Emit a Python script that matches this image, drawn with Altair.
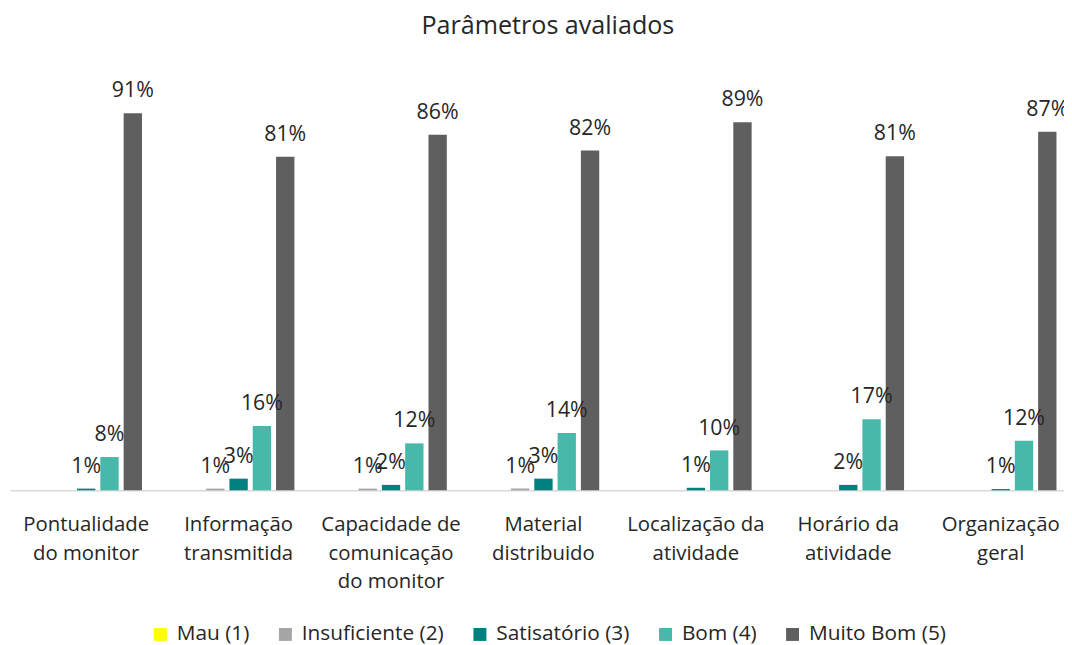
import altair as alt
import pandas as pd

categories = [
    "Pontualidade|do monitor",
    "Informação|transmitida",
    "Capacidade de|comunicação|do monitor",
    "Material|distribuido",
    "Localização da|atividade",
    "Horário da|atividade",
    "Organização|geral",
]
series = ["Mau (1)", "Insuficiente (2)", "Satisatório (3)", "Bom (4)", "Muito Bom (5)"]
colors = ["#FFFF00", "#A5A5A5", "#00807F", "#47B8AA", "#5F5F5F"]

# bar heights (percent)
mau = [0, 0, 0, 0, 0, 0, 0]
insuficiente = [0, 0.4, 0.4, 0.4, 0, 0, 0]
satisfatorio = [0.4, 2.8, 1.3, 2.8, 0.6, 1.3, 0.3]
bom = [8.0, 15.5, 11.3, 13.8, 9.6, 17.1, 11.9]
muito_bom = [90.8, 80.3, 85.6, 81.8, 88.6, 80.4, 86.3]

# data labels as printed
mau_lbl = ["", "", "", "", "", "", ""]
insuficiente_lbl = ["", "1%", "1%", "1%", "", "", ""]
satisfatorio_lbl = ["1%", "3%", "2%", "3%", "1%", "2%", "1%"]
bom_lbl = ["8%", "16%", "12%", "14%", "10%", "17%", "12%"]
muito_bom_lbl = ["91%", "81%", "86%", "82%", "89%", "81%", "87%"]

values = [mau, insuficiente, satisfatorio, bom, muito_bom]
labels = [mau_lbl, insuficiente_lbl, satisfatorio_lbl, bom_lbl, muito_bom_lbl]

rows = []
for s, vals, lbls in zip(series, values, labels):
    for c, v, l in zip(categories, vals, lbls):
        rows.append({"cat": c, "series": s, "value": v, "label": l})
df = pd.DataFrame(rows)

FONT = "Open Sans"
TXT = "#262626"

base = alt.Chart(df).encode(
    x=alt.X(
        "cat:N",
        sort=categories,
        scale=alt.Scale(range=[0, 1075], paddingInner=0.268, paddingOuter=0.134),
        axis=alt.Axis(
            title=None,
            labelExpr="split(datum.label, '|')",
            labelAngle=0,
            ticks=False,
            domainColor="#D9D9D9",
            domainWidth=1.5,
            labelFont=FONT,
            labelFontSize=20.5,
            labelColor=TXT,
            labelPadding=25,
            labelLineHeight=28.3,
            labelOverlap=False,
            labelLimit=0,
        ),
    ),
    xOffset=alt.XOffset("series:N", sort=series, scale=alt.Scale(paddingInner=0.213, paddingOuter=0)),
    y=alt.Y("value:Q", scale=alt.Scale(domain=[0, 100]), axis=None),
)

bars = base.mark_bar().encode(
    color=alt.Color(
        "series:N",
        sort=series,
        scale=alt.Scale(domain=series, range=colors),
        legend=alt.Legend(
            title=None,
            orient="none",
            legendX=141,
            legendY=553,
            direction="horizontal",
            symbolType="square",
            symbolSize=170,
            symbolStrokeWidth=0,
            symbolOpacity=1,
            labelFont=FONT,
            labelFontSize=21,
            labelColor=TXT,
            labelOffset=6,
            columnPadding=25,
        ),
    )
)

text = base.mark_text(
    baseline="alphabetic", dy=-16, font=FONT, fontSize=21.5, color=TXT
).encode(text="label:N").transform_filter("datum.label != ''")

chart = (
    alt.layer(bars, text)
    .properties(
        width=1062,
        height=418.5,
        autosize=alt.AutoSizeParams(type="none"),
        padding={"left": 2, "top": 65, "right": 0, "bottom": 160},
        title=alt.TitleParams(
            "Parâmetros avaliados",
            font=FONT,
            fontSize=25.3,
            fontWeight="normal",
            color=TXT,
            anchor="middle",
            frame="group",
            offset=16,
            baseline="alphabetic",
            dx=11,
        ),
    )
    .configure_view(stroke=None)
)

chart.save("out.html", embed_options={"renderer": "svg", "actions": False})
